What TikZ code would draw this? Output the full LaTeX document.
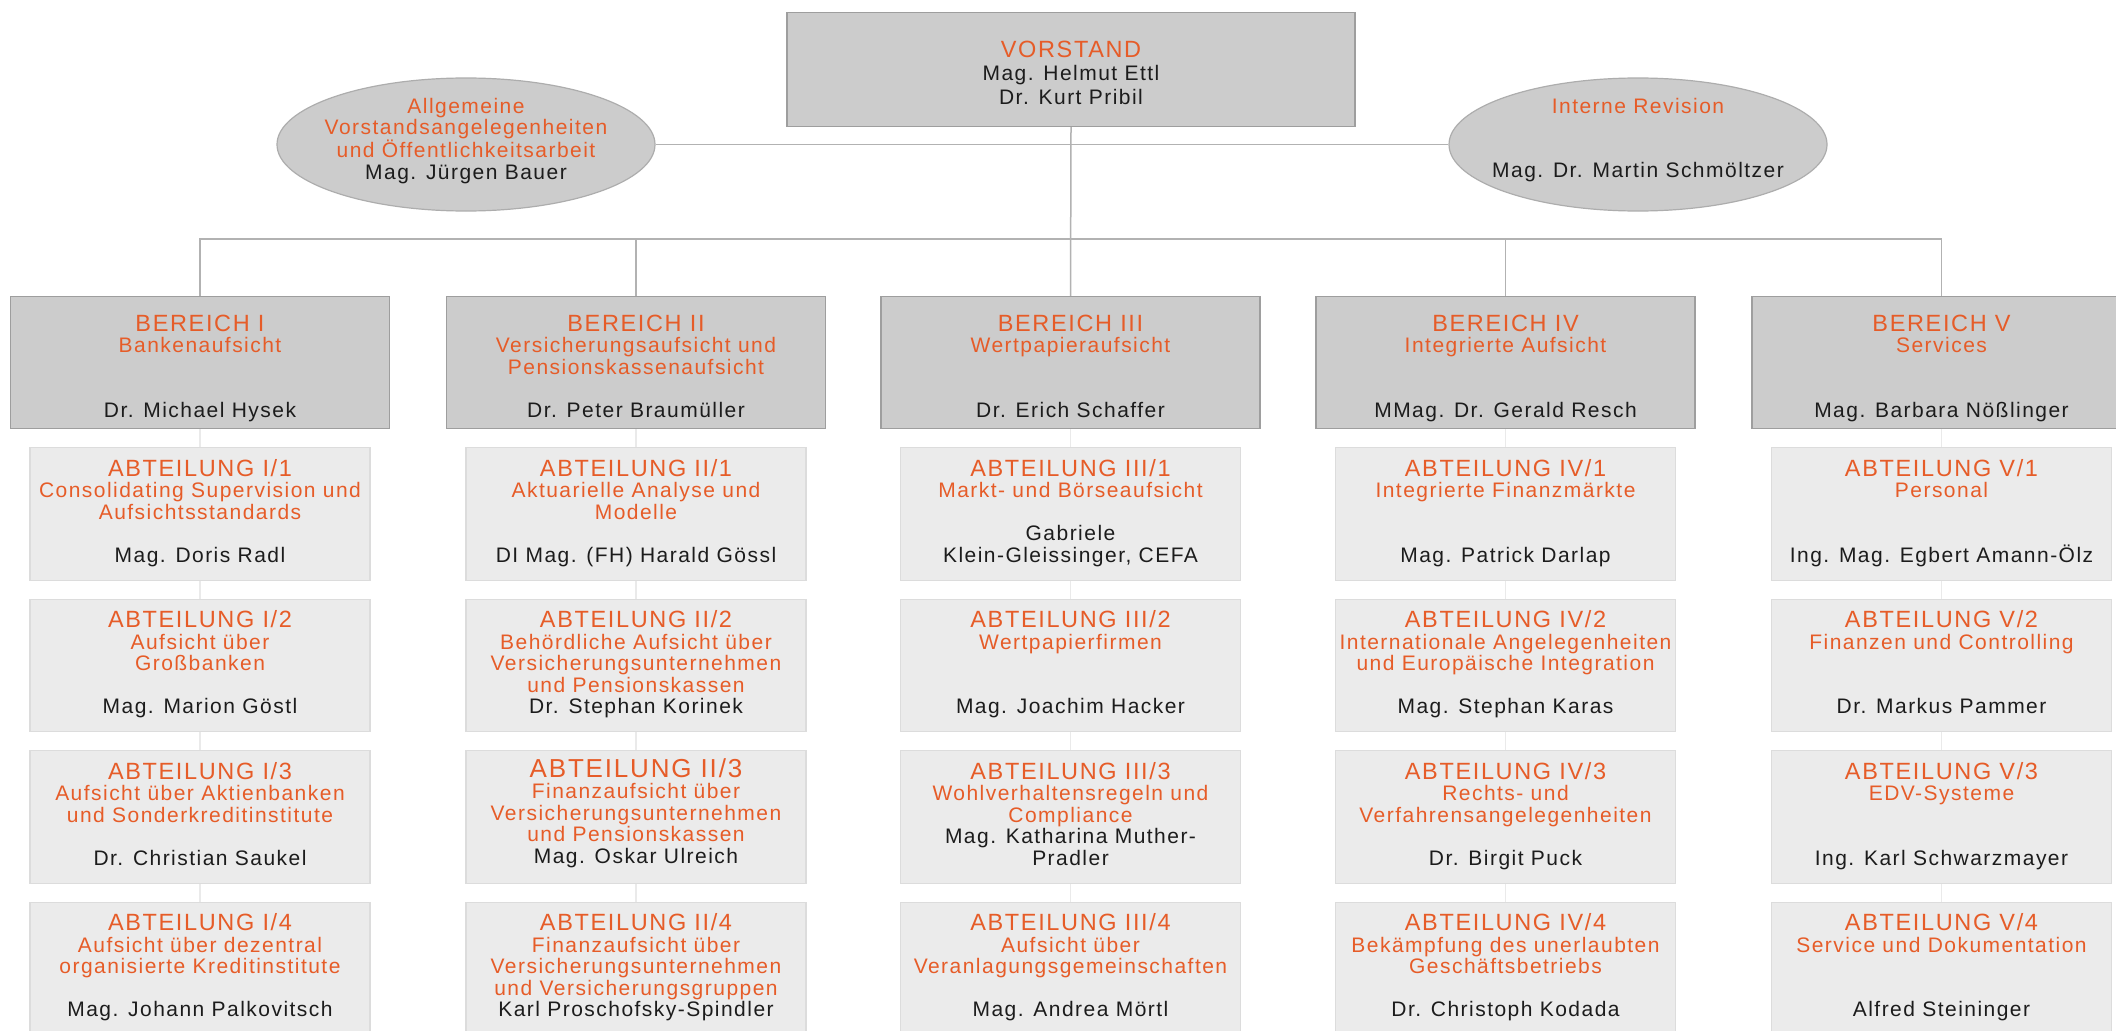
\documentclass[tikz,border=0pt]{standalone}
\usepackage{fontspec}
\setmainfont{Liberation Sans}[LetterSpace=7]
\usetikzlibrary{shapes.geometric,backgrounds}
\definecolor{orng}{RGB}{230,92,40}
\definecolor{nametxt}{RGB}{28,28,28}
\definecolor{bfill}{RGB}{204,204,204}
\definecolor{bdraw}{RGB}{158,158,158}
\definecolor{afill}{RGB}{235,235,235}
\definecolor{adraw}{RGB}{220,220,220}
\definecolor{conn}{RGB}{178,178,178}
\definecolor{faint}{RGB}{234,234,234}
\newcommand{\hd}[1]{{\fontsize{23.5}{21.5}\selectfont #1}\rule{0pt}{19pt}}
\newcommand{\hdb}[1]{{\fontsize{26}{21.5}\selectfont #1}\rule{0pt}{19pt}}
\newcommand{\nm}[1]{{\color{nametxt}\fontsize{21}{21.5}\selectfont #1}}
\newcommand{\bl}{\mbox{}}
\newcommand{\mkbox}[6]{\node[#1] (#2) at (#3,#4) {}; \node[txt] (t#2) at ([yshift=-#5pt]#2.north) {#6};}
\begin{document}
\begin{tikzpicture}[x=1pt,y=-1pt,
  txt/.style={align=center, inner sep=0pt, anchor=north, text=orng, font=\fontsize{21}{21.5}\selectfont},
  vstbox/.style={rectangle, draw=bdraw, fill=bfill, line width=1.2pt, minimum width=568pt, minimum height=114pt, inner sep=0pt, anchor=north},
  ellbox/.style={ellipse, draw=bdraw!85, fill=bfill, line width=1.2pt, minimum width=378pt, minimum height=133pt, inner sep=0pt},
  bereich/.style={rectangle, draw=bdraw, fill=bfill, line width=1.2pt, minimum width=379pt, minimum height=132pt, inner sep=0pt, anchor=north},
  abt/.style={rectangle, draw=adraw, fill=afill, line width=1.2pt, minimum width=340pt, minimum height=132.5pt, inner sep=0pt, anchor=north},
  connector/.style={draw=conn, line width=1.5pt},
  colline/.style={draw=faint, line width=1.5pt}]
\useasboundingbox (0,0) rectangle (2116,1030);
\clip (0,0) rectangle (2116,1030);

% top
\node[vstbox] (vst) at (1071,12) {};
\node[txt, font=\fontsize{21}{23.5}\selectfont] (tvst) at ([yshift=-26pt]vst.north) {\hd{VORSTAND}\\\nm{Mag. Helmut Ettl}\\\nm{Dr. Kurt Pribil}};
\node[ellbox] (ell1) at (466,144.5) {};
\node[txt] (tell1) at ([yshift=50.5pt]ell1.center) {Allgemeine\rule{0pt}{19pt}\\Vorstandsangelegenheiten\\und Öffentlichkeitsarbeit\\\nm{Mag. Jürgen Bauer}};
\node[ellbox] (ell2) at (1638,144.5) {};
\node[txt] (tell2) at ([yshift=50.5pt]ell2.center) {Interne Revision\rule{0pt}{19pt}\\\bl\\\bl\\\nm{Mag. Dr. Martin Schmöltzer}};

% Bereiche
\mkbox{bereich}{b1}{200}{296}{16}{\hd{BEREICH I}\\Bankenaufsicht\\\bl\\\bl\\\nm{Dr. Michael Hysek}}
\mkbox{bereich}{b2}{636}{296}{16}{\hd{BEREICH II}\\Versicherungsaufsicht und\\Pensionskassenaufsicht\\\bl\\\nm{Dr. Peter Braumüller}}
\mkbox{bereich}{b3}{1070.5}{296}{16}{\hd{BEREICH III}\\Wertpapieraufsicht\\\bl\\\bl\\\nm{Dr. Erich Schaffer}}
\mkbox{bereich}{b4}{1505.5}{296}{16}{\hd{BEREICH IV}\\Integrierte Aufsicht\\\bl\\\bl\\\nm{MMag. Dr. Gerald Resch}}
\mkbox{bereich}{b5}{1941.5}{296}{16}{\hd{BEREICH V}\\Services\\\bl\\\bl\\\nm{Mag. Barbara Nößlinger}}

% Abteilungen column I
\mkbox{abt}{a11}{200}{447}{10}{\hd{ABTEILUNG I/1}\\Consolidating Supervision und\\Aufsichtsstandards\\\bl\\\nm{Mag. Doris Radl}}
\mkbox{abt}{a12}{200}{598.5}{10}{\hd{ABTEILUNG I/2}\\Aufsicht über\\Großbanken\\\bl\\\nm{Mag. Marion Göstl}}
\mkbox{abt}{a13}{200}{750}{10}{\hd{ABTEILUNG I/3}\\Aufsicht über Aktienbanken\\und Sonderkreditinstitute\\\bl\\\nm{Dr. Christian Saukel}}
\mkbox{abt}{a14}{200}{901.5}{10}{\hd{ABTEILUNG I/4}\\Aufsicht über dezentral\\organisierte Kreditinstitute\\\bl\\\nm{Mag. Johann Palkovitsch}}
% column II
\mkbox{abt}{a21}{636}{447}{10}{\hd{ABTEILUNG II/1}\\Aktuarielle Analyse und\\Modelle\\\bl\\\nm{DI Mag. (FH) Harald Gössl}}
\mkbox{abt}{a22}{636}{598.5}{10}{\hd{ABTEILUNG II/2}\\Behördliche Aufsicht über\\Versicherungsunternehmen\\und Pensionskassen\\\nm{Dr. Stephan Korinek}}
\mkbox{abt}{a23}{636}{750}{8}{\hdb{ABTEILUNG II/3}\\Finanzaufsicht über\\Versicherungsunternehmen\\und Pensionskassen\\\nm{Mag. Oskar Ulreich}}
\mkbox{abt}{a24}{636}{901.5}{10}{\hd{ABTEILUNG II/4}\\Finanzaufsicht über\\Versicherungsunternehmen\\und Versicherungsgruppen\\\nm{Karl Proschofsky-Spindler}}
% column III
\mkbox{abt}{a31}{1070.5}{447}{10}{\hd{ABTEILUNG III/1}\\Markt- und Börseaufsicht\\\bl\\\nm{Gabriele}\\\nm{Klein-Gleissinger, CEFA}}
\mkbox{abt}{a32}{1070.5}{598.5}{10}{\hd{ABTEILUNG III/2}\\Wertpapierfirmen\\\bl\\\bl\\\nm{Mag. Joachim Hacker}}
\mkbox{abt}{a33}{1070.5}{750}{10}{\hd{ABTEILUNG III/3}\\Wohlverhaltensregeln und\\Compliance\\\nm{Mag. Katharina Muther-}\\\nm{Pradler}}
\mkbox{abt}{a34}{1070.5}{901.5}{10}{\hd{ABTEILUNG III/4}\\Aufsicht über\\Veranlagungsgemeinschaften\\\bl\\\nm{Mag. Andrea Mörtl}}
% column IV
\mkbox{abt}{a41}{1505.5}{447}{10}{\hd{ABTEILUNG IV/1}\\Integrierte Finanzmärkte\\\bl\\\bl\\\nm{Mag. Patrick Darlap}}
\mkbox{abt}{a42}{1505.5}{598.5}{10}{\hd{ABTEILUNG IV/2}\\Internationale Angelegenheiten\\und Europäische Integration\\\bl\\\nm{Mag. Stephan Karas}}
\mkbox{abt}{a43}{1505.5}{750}{10}{\hd{ABTEILUNG IV/3}\\Rechts- und\\Verfahrensangelegenheiten\\\bl\\\nm{Dr. Birgit Puck}}
\mkbox{abt}{a44}{1505.5}{901.5}{10}{\hd{ABTEILUNG IV/4}\\Bekämpfung des unerlaubten\\Geschäftsbetriebs\\\bl\\\nm{Dr. Christoph Kodada}}
% column V
\mkbox{abt}{a51}{1941.5}{447}{10}{\hd{ABTEILUNG V/1}\\Personal\\\bl\\\bl\\\nm{Ing. Mag. Egbert Amann-Ölz}}
\mkbox{abt}{a52}{1941.5}{598.5}{10}{\hd{ABTEILUNG V/2}\\Finanzen und Controlling\\\bl\\\bl\\\nm{Dr. Markus Pammer}}
\mkbox{abt}{a53}{1941.5}{750}{10}{\hd{ABTEILUNG V/3}\\EDV-Systeme\\\bl\\\bl\\\nm{Ing. Karl Schwarzmayer}}
\mkbox{abt}{a54}{1941.5}{901.5}{10}{\hd{ABTEILUNG V/4}\\Service und Dokumentation\\\bl\\\bl\\\nm{Alfred Steininger}}

\coordinate (bus) at (0,239);
\begin{scope}[on background layer]
  \fill[white] (0,0) rectangle (2116,1030);
  \foreach \c in {1,...,5} {\draw[colline] (b\c.south) -- (a\c4.south);}
  \draw[connector] (ell1.east) -- (ell2.west);
  \draw[connector] (vst.south) -- (b3.north);
  \draw[connector] (b1.north) -- (b1.north |- bus) -- (b5.north |- bus) -- (b5.north);
  \draw[connector] (b2.north) -- (b2.north |- bus);
  \draw[connector] (b4.north) -- (b4.north |- bus);
\end{scope}
\end{tikzpicture}
\end{document}
